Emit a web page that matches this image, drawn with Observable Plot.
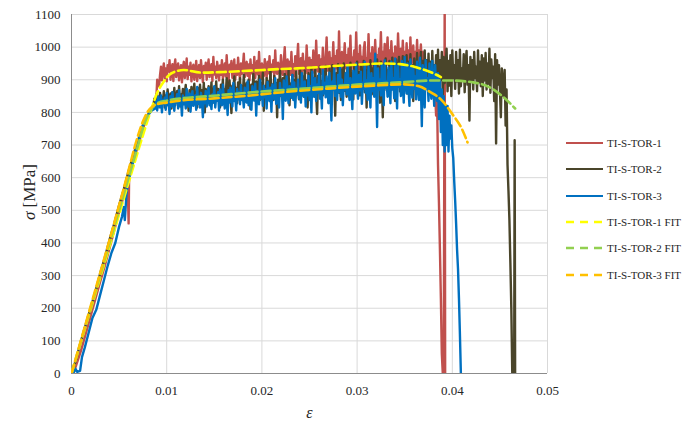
<!DOCTYPE html>
<html>
<head>
<meta charset="utf-8">
<script src="https://cdn.jsdelivr.net/npm/d3@7"></script>
<script src="https://cdn.jsdelivr.net/npm/@observablehq/plot@0.6"></script>
<style>
  html, body { margin: 0; padding: 0; background: #ffffff; }
  #wrap { position: relative; width: 683px; height: 424px; font-family: "Liberation Serif", serif; }
  #chart { position: absolute; left: 0; top: 0; }
  #ylabel { position: absolute; left: 30px; top: 192px; transform: translate(-50%, -50%) rotate(-90deg); font-size: 17px; color: #262626; white-space: nowrap; }
  #legend { position: absolute; left: 566px; top: 130px; font-size: 11px; color: #262626; }
  .item { display: flex; align-items: center; height: 26.3px; white-space: nowrap; }
  .item svg { margin-right: 4px; }
</style>
</head>
<body>
<div id="wrap">
  <div id="chart"></div>
  <div id="ylabel"><i>σ</i> [MPa]</div>
  <div id="legend"></div>
</div>
<script>
// Strain axis and stress axis ticks
const xTicks = [0, 0.01, 0.02, 0.03, 0.04, 0.05];
const xTickLabels = ["0", "0.01", "0.02", "0.03", "0.04", "0.05"];
const yTicks = [0, 100, 200, 300, 400, 500, 600, 700, 800, 900, 1000, 1100];

const seriesNames = ["TI-S-TOR-1", "TI-S-TOR-2", "TI-S-TOR-3", "TI-S-TOR-1 FIT", "TI-S-TOR-2 FIT", "TI-S-TOR-3 FIT"];
const seriesColors = ["#c0504d", "#4a452a", "#0070c0", "#ffff00", "#92d050", "#ffc000"];

// Plastic-range samples are logged every 0.0001 of strain
const sampleStep = 0.0001;

// ---- TI-S-TOR-1 (measured) ----
const tor1Elastic = [[0.0002,0],[0.001,70],[0.002,175],[0.003,280],[0.0035,330],[0.004,385],[0.0045,440],[0.005,495],[0.0055,545],[0.0059,585],[0.006,460],[0.00605,600],[0.0065,650],[0.007,700],[0.0075,750],[0.008,790],[0.0085,815],[0.0089,835],[0.009,900]];
const tor1PlateauStart = 0.0092;
const tor1Plateau = [
  880,915,940,898,928,950,905,935,895,945,
  925,960,900,932,948,896,940,962,908,935,
  950,898,926,945,892,938,955,905,930,965,
  902,940,915,952,895,935,946,900,928,958,
  896,932,945,905,960,925,893,942,920,952,
  900,938,962,908,933,948,896,970,916,940,
  905,955,930,898,944,915,960,902,936,950,
  910,975,918,896,946,928,958,906,930,962,
  900,944,915,968,925,902,950,918,942,980,
  908,936,955,912,947,898,962,920,945,915,
  970,905,940,958,916,985,922,902,950,928,
  912,963,930,905,955,920,972,910,946,925,
  960,908,990,925,918,952,934,905,975,928,
  915,958,1000,922,908,962,930,955,915,985,
  920,948,910,972,928,960,1010,918,945,966,
  912,980,930,955,920,1005,938,915,968,932,
  960,920,990,935,912,1020,940,925,975,930,
  962,918,998,935,920,970,1030,928,955,985,
  925,965,938,1015,920,972,935,990,915,1048,
  930,962,985,922,958,1012,935,975,920,995,
  940,1035,928,968,945,990,918,1045,950,978,
  932,1005,945,970,925,992,1015,938,965,930,
  1040,948,980,935,1000,952,925,1022,945,975,
  935,995,958,1046,930,985,948,1010,940,972,
  1030,945,990,935,1018,952,980,930,1002,958,
  940,1042,965,950,995,935,1020,948,985,938,
  1012,955,990,932,1030,945,975,1005,938,985,
  950,1022,935,990,960,1008,942,985,930,925,
  945,910,935,900,930,915,940,905,920
];
const tor1Failure = [[0.0381,900],[0.0382,860],[0.0383,790],[0.0384,840],[0.0385,640],[0.0386,520],[0.0387,380],[0.0388,230],[0.0389,60],[0.039,0],[0.0391,0],[0.0392,1150],[0.03925,0]];

// ---- TI-S-TOR-2 (measured) ----
const tor2Elastic = [[0,0],[0.0005,45],[0.001,100],[0.0015,150],[0.002,200],[0.0025,250],[0.003,305],[0.0035,355],[0.004,410],[0.0045,460],[0.005,515],[0.0055,565],[0.006,620],[0.0065,670],[0.007,715],[0.0075,760],[0.008,790],[0.0083,805]];
const tor2PlateauStart = 0.0086;
const tor2Plateau = [
  818,842,826,855,812,848,832,860,820,845,
  835,865,815,852,840,870,825,848,858,812,
  862,838,875,822,850,866,830,880,818,855,
  842,872,826,860,884,835,852,805,868,845,
  878,830,858,888,840,862,815,875,850,885,
  832,868,846,890,800,872,855,838,880,862,
  845,892,828,866,878,850,895,836,872,858,
  815,885,862,900,842,870,855,905,832,878,
  898,850,798,882,866,910,845,875,828,892,
  862,905,840,880,855,915,832,870,890,848,
  900,865,810,885,852,918,870,845,895,860,
  875,912,838,888,862,922,805,880,858,905,
  848,895,872,925,855,885,838,912,868,890,
  785,900,862,928,850,878,905,842,918,870,
  895,855,930,822,888,872,915,848,900,865,
  925,860,892,840,935,878,852,910,870,928,
  856,898,815,920,880,862,938,848,905,875,
  930,858,795,912,885,940,866,895,852,925,
  878,942,860,900,830,935,882,868,945,872,
  905,790,920,875,948,860,895,838,932,880,
  950,866,910,848,938,885,872,952,862,918,
  840,945,890,875,955,868,925,852,940,895,
  878,958,862,930,815,948,892,880,960,870,
  935,855,952,898,882,962,872,940,830,955,
  890,785,945,878,965,868,930,852,958,900,
  880,968,872,942,835,962,895,885,970,865,
  948,880,972,862,935,900,975,858,955,890,
  978,870,945,835,965,895,880,982,862,950,
  900,985,875,958,845,990,885,960,870,980,
  892,955,862,988,878,945,905,975,855,992,
  880,960,900,985,848,970,890,940,995,865,
  958,882,975,850,990,905,945,872,985,895,
  960,858,992,880,935,900,978,862,955,988,
  885,945,775,970,895,960,870,985,905,940,
  865,990,892,955,880,975,850,965,898,982,
  870,950,888,995,860,962,905,940,835,978,
  705,960,885,945,870,785,935,890,850
];
const tor2Failure = [[0.0455,930],[0.0456,760],[0.0457,870],[0.0458,640],[0.0459,560],[0.046,470],[0.0461,340],[0.0462,200],[0.0463,0],[0.0465,10],[0.04655,715],[0.0466,0]];

// ---- TI-S-TOR-3 (measured) ----
const tor3Elastic = [[0.0002,0],[0.0004,15],[0.0006,5],[0.0009,8],[0.0011,50],[0.0014,80],[0.0018,125],[0.0022,170],[0.0026,195],[0.003,240],[0.0034,285],[0.0038,330],[0.0042,370],[0.0046,400],[0.005,450],[0.0053,480],[0.0055,510],[0.0056,470],[0.0058,560],[0.006,590],[0.0064,640],[0.0068,690],[0.0072,730],[0.0076,770],[0.008,790],[0.0084,805]];
const tor3PlateauStart = 0.0088;
const tor3Plateau = [
  812,835,806,848,822,815,852,800,838,826,
  845,808,860,822,833,795,850,818,862,828,
  805,842,830,856,812,868,820,838,790,852,
  825,846,812,872,830,818,858,802,840,865,
  820,836,852,808,878,826,845,815,860,835,
  785,850,828,866,818,842,875,822,838,810,
  855,830,880,815,848,836,862,805,870,840,
  822,885,838,812,856,842,792,868,830,876,
  845,818,890,835,852,806,872,840,862,825,
  884,838,850,815,876,845,830,895,822,860,
  842,808,880,852,836,888,790,866,848,825,
  900,842,858,820,882,846,870,812,893,850,
  835,876,802,886,855,840,905,826,862,845,
  815,890,852,872,780,898,848,836,910,858,
  828,880,865,845,915,838,892,815,872,855,
  900,842,875,830,920,860,848,895,818,870,
  852,912,838,880,800,925,865,848,905,835,
  885,860,918,842,872,812,930,858,890,846,
  910,868,828,922,855,775,895,870,935,850,
  880,838,915,862,940,848,900,822,885,870,
  920,855,945,872,838,905,866,810,928,880,
  858,950,875,842,915,868,925,826,890,872,
  955,860,898,838,940,878,815,920,865,905,
  848,980,885,755,935,870,900,852,948,882,
  822,960,875,895,848,938,880,828,955,870,
  905,843,965,885,812,945,878,900,850,958,
  880,830,970,892,858,950,875,820,962,888,
  845,940,872,910,840,955,885,838,968,880,
  758,945,890,815,960,872,905,835,950,878,
  842,958,885,820,945,870,835
];
const tor3Failure = [[0.0385,920],[0.0386,780],[0.0387,900],[0.0388,740],[0.0389,870],[0.039,700],[0.0391,850],[0.0392,680],[0.0393,820],[0.0394,700],[0.0395,820],[0.0396,680],[0.0397,790],[0.0398,720],[0.0399,760],[0.04,690],[0.0401,660],[0.0402,590],[0.0403,530],[0.0404,460],[0.0405,380],[0.0406,320],[0.0407,230],[0.0408,120],[0.0409,0]];

// ---- Fitted curves ----
const tor1Fit = [[0,0],[0.002,195],[0.004,390],[0.006,585],[0.0075,730],[0.0085,820],[0.009,860],[0.0097,895],[0.0105,920],[0.0118,930],[0.0136,922],[0.016,924],[0.0188,928],[0.022,933],[0.0237,935],[0.026,939],[0.028,943],[0.0305,947],[0.0328,950],[0.0345,948],[0.036,940],[0.037,931],[0.038,920],[0.0388,908]];
const tor2Fit = [[0,0],[0.002,200],[0.004,400],[0.006,600],[0.007,700],[0.0075,752],[0.008,790],[0.0085,815],[0.009,828],[0.01,836],[0.0153,852],[0.02,864],[0.0244,873],[0.03,885],[0.035,893],[0.038,898],[0.0395,898],[0.0422,892],[0.044,876],[0.0454,846],[0.0466,812]];
const tor3Fit = [[0,0],[0.002,205],[0.004,410],[0.0057,590],[0.007,730],[0.0075,772],[0.008,802],[0.0085,818],[0.009,825],[0.01,830],[0.0114,836],[0.015,843],[0.0188,852],[0.023,864],[0.027,873],[0.0317,882],[0.0349,886],[0.0365,880],[0.0377,862],[0.0388,840],[0.04,795],[0.041,750],[0.0416,708]];

// Assemble one table per series
function pairs(name, list) { return list.map(([x, y]) => ({name, x, y})); }
function sampled(name, start, values) {
  return values.map((y, i) => ({name, x: +(start + i * sampleStep).toFixed(5), y}));
}
const tor1 = [...pairs(seriesNames[0], tor1Elastic), ...sampled(seriesNames[0], tor1PlateauStart, tor1Plateau), ...pairs(seriesNames[0], tor1Failure)];
const tor2 = [...pairs(seriesNames[1], tor2Elastic), ...sampled(seriesNames[1], tor2PlateauStart, tor2Plateau), ...pairs(seriesNames[1], tor2Failure)];
const tor3 = [...pairs(seriesNames[2], tor3Elastic), ...sampled(seriesNames[2], tor3PlateauStart, tor3Plateau), ...pairs(seriesNames[2], tor3Failure)];
const fit1 = pairs(seriesNames[3], tor1Fit);
const fit2 = pairs(seriesNames[4], tor2Fit);
const fit3 = pairs(seriesNames[5], tor3Fit);

const measured = (data, color) => Plot.line(data, {x: "x", y: "y", stroke: color, strokeWidth: 2.4, strokeLinejoin: "round", clip: true});
const fitted = (data, color) => Plot.line(data, {x: "x", y: "y", stroke: color, strokeWidth: 2.6, strokeDasharray: "9,4", curve: "monotone-x", clip: true});

const chart = Plot.plot({
  width: 560,
  height: 424,
  marginLeft: 71,
  marginRight: 13,
  marginTop: 14,
  marginBottom: 51,
  style: {fontFamily: "'Liberation Serif', serif", fontSize: "13px", color: "#262626", background: "#ffffff"},
  x: {domain: [0, 0.05]},
  y: {domain: [0, 1100]},
  marks: [
    Plot.gridY(yTicks, {stroke: "#d9d9d9", strokeOpacity: 1, strokeWidth: 1}),
    Plot.gridX(xTicks, {stroke: "#d9d9d9", strokeOpacity: 1, strokeWidth: 1}),
    Plot.ruleX([0], {stroke: "#8c8c8c", strokeWidth: 1}),
    Plot.ruleY([0], {stroke: "#8c8c8c", strokeWidth: 1}),
    Plot.axisX(xTicks, {tickSize: 0, tickPadding: 12, tickFormat: (d, i) => xTickLabels[i], label: "ε", labelAnchor: "center", labelOffset: 44, labelArrow: "none", fontSize: 13}),
    Plot.axisY(yTicks, {tickSize: 0, tickPadding: 11, tickFormat: d => String(d), label: null, fontSize: 13}),
    measured(tor1, seriesColors[0]),
    measured(tor2, seriesColors[1]),
    measured(tor3, seriesColors[2]),
    fitted(fit1, seriesColors[3]),
    fitted(fit2, seriesColors[4]),
    fitted(fit3, seriesColors[5])
  ]
});
document.getElementById("chart").appendChild(chart);

// Italic strain symbol on the x-axis title
d3.select(chart).selectAll("text").each(function() {
  if (this.textContent === "ε") {
    d3.select(this).style("font-style", "italic").style("font-size", "16px");
  }
});

// Legend on the right
const legend = d3.select("#legend");
seriesNames.forEach((name, i) => {
  const row = legend.append("div").attr("class", "item");
  const sw = row.append("svg").attr("width", 37).attr("height", 6);
  sw.append("line").attr("x1", 0).attr("x2", 37).attr("y1", 3).attr("y2", 3)
    .attr("stroke", seriesColors[i]).attr("stroke-width", i < 3 ? 2.2 : 2.4)
    .attr("stroke-dasharray", i < 3 ? null : "8,6");
  row.append("span").text(name);
});
</script>
</body>
</html>
